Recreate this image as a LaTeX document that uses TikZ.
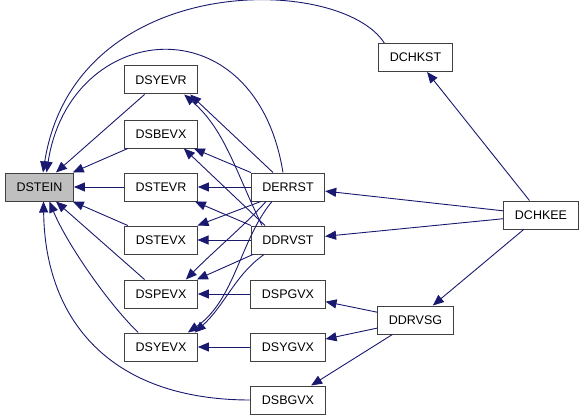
\documentclass[tikz,border=0pt]{standalone}
\usepackage{fontspec}
\setmainfont{Liberation Sans}
\usepackage{tikz}
\usetikzlibrary{arrows.meta, positioning}
\definecolor{edgeblue}{rgb}{0.1, 0.1, 0.44}
\definecolor{focusgray}{rgb}{0.75, 0.75, 0.75}

\begin{document}
\begin{tikzpicture}[x=1pt, y=-1pt,
	fnbox/.style={draw=black!75, line width=1pt, fill=white, minimum height=28pt, inner xsep=11pt, font=\fontsize{12.5}{14}\selectfont},
	call/.style={draw=edgeblue, line width=0.9pt, -{Triangle[length=11pt, width=9pt]}}]
				\useasboundingbox (0,0) rectangle (584,420);
				\pgfmathsetmacro{\colA}{161}
				\pgfmathsetmacro{\colB}{288}
				\pgfmathsetmacro{\colC}{415.5}
				\pgfmathsetmacro{\colD}{541}
				
				\node[fnbox, fill=focusgray] (DSTEIN) at (39.5,187) {DSTEIN};
				\node[fnbox] (DSYEVR) at (\colA,80) {DSYEVR};
				\node[fnbox] (DSBEVX) at (\colA,134) {DSBEVX};
				\node[fnbox] (DSTEVR) at (\colA,187) {DSTEVR};
				\node[fnbox] (DSTEVX) at (\colA,240) {DSTEVX};
				\node[fnbox] (DSPEVX) at (\colA,294) {DSPEVX};
				\node[fnbox] (DSYEVX) at (\colA,347) {DSYEVX};
				
				\node[fnbox] (DERRST) at (\colB,187) {DERRST};
				\node[fnbox] (DDRVST) at (\colB,240) {DDRVST};
				\node[fnbox] (DSPGVX) at (\colB,294) {DSPGVX};
				\node[fnbox] (DSYGVX) at (\colB,347) {DSYGVX};
				\node[fnbox] (DSBGVX) at (\colB,400) {DSBGVX};
				
				\node[fnbox] (DCHKST) at (\colC,57.5) {DCHKST};
				\node[fnbox] (DDRVSG) at (\colC,320) {DDRVSG};
				\node[fnbox] (DCHKEE) at (\colD,215) {DCHKEE};
				
				% callers of DSTEIN
				\draw[call] ([xshift=6]DCHKST.north west) .. controls (340,-26) and (75,-30) .. ([xshift=3.5]DSTEIN.north);
				\draw[call] ([xshift=-5]DERRST.north) .. controls (255,0) and (70,20) .. ([xshift=7]DSTEIN.north);
				\draw[call] (DSYEVR) -- (DSTEIN);
				\draw[call] (DSBEVX) -- (DSTEIN);
				\draw[call] (DSTEVR) -- (DSTEIN);
				\draw[call] (DSTEVX) -- (DSTEIN);
				\draw[call] (DSPEVX) -- (DSTEIN);
				\draw[call] ([xshift=14]DSYEVX.north west) .. controls (105,300) and (65,240) .. ([xshift=10]DSTEIN.south);
				\draw[call] (DSBGVX.west) .. controls (110,400) and (45,320) .. ([xshift=4]DSTEIN.south);
				
				% DERRST and DDRVST
				\draw[call] ([xshift=-15]DERRST.north) -- ([xshift=-8]DSYEVR.south east);
				\draw[call] ([xshift=-26]DDRVST.north) .. controls (235,170) and (225,130) .. ([xshift=-14]DSYEVR.south east);
				\draw[call] (DERRST.north west) -- ([xshift=-4]DSBEVX.south east);
				\draw[call] ([xshift=-23]DDRVST.north) -- ([xshift=-14]DSBEVX.south east);
				\draw[call] (DERRST) -- (DSTEVR);
				\draw[call] (DDRVST.north west) -- ([xshift=-3]DSTEVR.south east);
				\draw[call] ([xshift=10]DERRST.south west) -- (DSTEVX.north east);
				\draw[call] (DDRVST) -- (DSTEVX);
				\draw[call] ([xshift=-22]DERRST.south) .. controls (245,225) and (215,250) .. ([xshift=-12]DSPEVX.north east);
				\draw[call] ([xshift=2]DDRVST.south west) -- ([xshift=-1]DSPEVX.north east);
				\draw[call] ([xshift=-16]DERRST.south) .. controls (240,240) and (235,300) .. ([xshift=-10]DSYEVX.north east);
				\draw[call] ([xshift=-24]DDRVST.south) .. controls (235,275) and (225,305) .. ([xshift=-3]DSYEVX.north east);
				
				\draw[call] (DSPGVX) -- (DSPEVX);
				\draw[call] (DSYGVX) -- (DSYEVX);
				
				% DCHKEE and DDRVSG
				\draw[call] (DCHKEE) -- (DCHKST);
				\draw[call] (DCHKEE) -- (DERRST);
				\draw[call] (DCHKEE) -- (DDRVST);
				\draw[call] (DCHKEE) -- (DDRVSG);
				\draw[call] (DDRVSG) -- (DSPGVX);
				\draw[call] (DDRVSG) -- (DSYGVX);
				\draw[call] (DDRVSG) -- (DSBGVX);
\end{tikzpicture}
\end{document}
